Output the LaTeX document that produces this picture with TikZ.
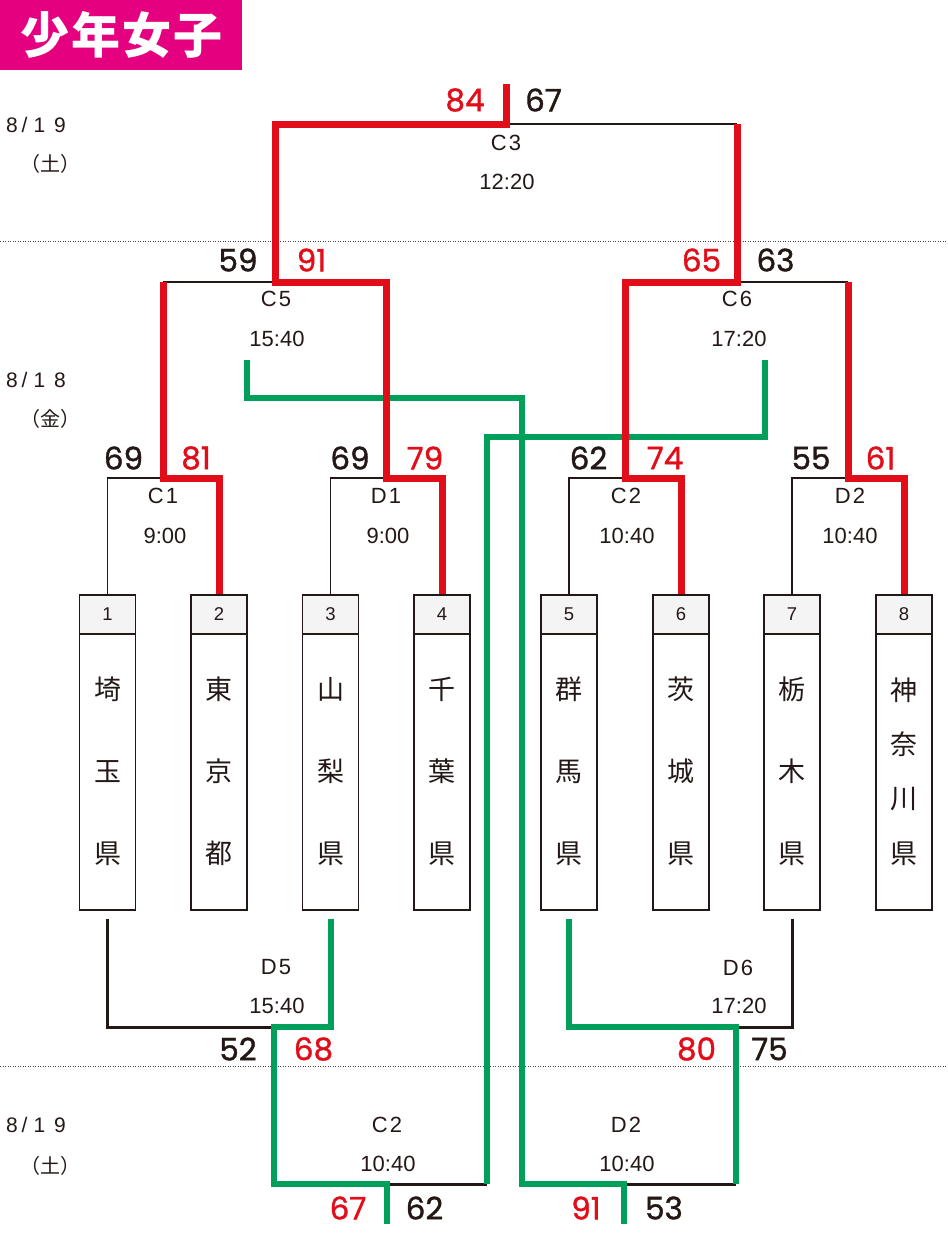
\documentclass[tikz,border=0pt]{standalone}
\usepackage{fontspec}
\setmainfont{Liberation Sans}
\newfontfamily\cjk{Noto Sans CJK JP}
\newfontfamily\numfont{Poppins}[FakeBold=1.2]
\definecolor{ink}{HTML}{231815}
\definecolor{winred}{HTML}{E10E19}
\definecolor{wingreen}{HTML}{00A05A}
\definecolor{titlebg}{HTML}{E4007F}
\definecolor{hdrgray}{HTML}{F4F4F4}
\tikzset{
  thinln/.style={draw=ink, line width=1.5pt},
  thickln/.style={draw=ink, line width=3pt, line join=miter},
  redln/.style={draw=winred, line width=7pt, line join=miter},
  grnln/.style={draw=wingreen, line width=6pt, line join=miter},
  sep/.style={draw=ink!80, line width=1pt, dash pattern=on 1pt off 1.5pt},
  boxbody/.style={draw=ink, line width=1.3pt, fill=white, minimum width=56pt, minimum height=315pt, inner sep=0pt},
  boxhdr/.style={draw=ink, line width=1.3pt, fill=hdrgray, minimum width=56pt, minimum height=39pt, inner sep=0pt, font=\fontsize{18.5}{18.5}\selectfont, text=ink},
  pref3/.style={align=center, text=ink, font=\cjk\fontsize{27}{82}\selectfont, inner sep=0pt},
  pref4/.style={align=center, text=ink, font=\cjk\fontsize{27}{54.3}\selectfont, inner sep=0pt},
  scw/.style={text=winred, font=\numfont\fontsize{31}{31}\selectfont, inner sep=0pt},
  scl/.style={text=ink, font=\numfont\fontsize{31}{31}\selectfont, inner sep=0pt},
  lbl/.style={text=ink, font=\fontsize{22}{22}\selectfont, inner sep=0pt},
  datel/.style={text=ink, font=\fontsize{21}{21}\selectfont, inner sep=0pt},
  dayl/.style={text=ink, font=\cjk\fontsize{20}{20}\selectfont, inner sep=0pt},
}
\newcommand{\mlab}[2]{#1\hspace{2pt}#2}
\begin{document}
\begin{tikzpicture}[x=1pt,y=-1pt]
\useasboundingbox (0,0) rectangle (948,1248);
\fill[white] (0,0) rectangle (948,1248);

% title
\node[fill=titlebg, minimum width=242pt, minimum height=70pt, inner sep=0pt, anchor=north west,
      text=white, font=\cjk\bfseries\fontsize{49}{49}\selectfont] (title) at (0,0) {少\hspace{2pt}年\hspace{2pt}女\hspace{2pt}子};

% separators
\draw[sep] (0,241) -- (948,241);
\draw[sep] (0,1066) -- (948,1066);

% dates
\node[datel] (d1) at (36,124.5) {8\hspace{4pt}/\hspace{6pt}1\hspace{9pt}9};
\node[dayl] (w1) at (50,164) {（土）};
\node[datel] (d2) at (36,379.5) {8\hspace{4pt}/\hspace{6pt}1\hspace{9pt}8};
\node[dayl] (w2) at (50,419) {（金）};
\node[datel] (d3) at (36,1125) {8\hspace{4pt}/\hspace{6pt}1\hspace{9pt}9};
\node[dayl] (w3) at (50,1166) {（土）};

% boxes
\foreach \i/\x in {1/107.5,2/219,3/330.5,4/442,5/569,6/681,7/792,8/904}{
  \node[boxbody] (b\i) at (\x,752.5) {};
  \node[boxhdr] (h\i) at (\x,614.5) {\i};
}
\node[pref3] (p1) at (107.5,771.5) {埼\\玉\\県};
\node[pref3] (p2) at (219,771.5) {東\\京\\都};
\node[pref3] (p3) at (330.5,771.5) {山\\梨\\県};
\node[pref3] (p4) at (442,771.5) {千\\葉\\県};
\node[pref3] (p5) at (569,771.5) {群\\馬\\県};
\node[pref3] (p6) at (681,771.5) {茨\\城\\県};
\node[pref3] (p7) at (792,771.5) {栃\\木\\県};
\node[pref4] (p8) at (904,771.5) {神\\奈\\川\\県};

% junction coordinates
\coordinate (C3top) at (506,84);
\coordinate (C3m) at (506,124);
\coordinate (C3L) at (275,124);
\coordinate (C3R) at (737,124);
\coordinate (C5m) at (275,282);
\coordinate (C5L) at (163,282);
\coordinate (C5R) at (386,282);
\coordinate (C6m) at (737,282);
\coordinate (C6L) at (625,282);
\coordinate (C6R) at (848,282);
\coordinate (C1m) at (163,478);
\coordinate (D1m) at (386,478);
\coordinate (C2m) at (625,478);
\coordinate (D2m) at (848,478);
\coordinate (C5gs) at (247,360);
\coordinate (C5gk) at (247,398);
\coordinate (C6gs) at (765,360);
\coordinate (C6gk) at (765,437);
\coordinate (D5m) at (274,1027);
\coordinate (D6m) at (736,1027);
\coordinate (C2bL) at (274,1184);
\coordinate (C2bm) at (387,1184);
\coordinate (C2bR) at (487,1184);
\coordinate (C2bbot) at (387,1224);
\coordinate (D2bL) at (522,1184);
\coordinate (D2bm) at (624,1184);
\coordinate (D2bR) at (736,1184);
\coordinate (D2bbot) at (624,1224);

% thin black (upper)
\draw[thinln] (C3m) -- (C3R);
\draw[thinln] (C5L) -- (C5m);
\draw[thinln] (C6m) -- (C6R);
\draw[thinln] (b1.north) |- (C1m);
\draw[thinln] (b3.north) |- (D1m);
\draw[thinln] (b5.north) |- (C2m);
\draw[thinln] (b7.north) |- (D2m);

% thick black (lower)
\draw[thickln] ([yshift=-8pt]b1.south) |- (D5m);
\draw[thickln] ([yshift=-8pt]b7.south) |- (D6m);
\draw[thickln] (C2bm) -- (C2bR);
\draw[thickln] (D2bm) -- (D2bR);

% green paths
\draw[grnln] (C5gs) -- (C5gk) -| (D2bL) -- (D2bm) -- (D2bbot);
\draw[grnln] (C6gs) -- (C6gk) -| (C2bR);
\draw[grnln] ([yshift=-8pt]b3.south) |- (D5m) -- (C2bL) -- (C2bm) -- (C2bbot);
\draw[grnln] ([yshift=-8pt]b5.south) |- (D6m) -- (D2bR);

% red paths
\draw[redln] (b4.north) |- (D1m) -- (C5R) -- (C5m) -- (C3L) -- (C3m) -- (C3top);
\draw[redln] (b6.north) |- (C2m) -- (C6L) -- (C6m) -- (C3R);
\draw[redln] (b2.north) |- (C1m) -- (C5L);
\draw[redln] (b8.north) |- (D2m) -- (C6R);

% match labels
\node[lbl] (lC3) at (506,143) {\mlab{C}{3}};
\node[lbl] (tC3) at (507,182) {12:20};
\node[lbl] (lC5) at (276,299) {\mlab{C}{5}};
\node[lbl] (tC5) at (277,339) {15:40};
\node[lbl] (lC6) at (737,299) {\mlab{C}{6}};
\node[lbl] (tC6) at (739,339) {17:20};
\node[lbl] (lC1) at (163,496) {\mlab{C}{1}};
\node[lbl] (tC1) at (165,536) {9:00};
\node[lbl] (lD1) at (386,496) {\mlab{D}{1}};
\node[lbl] (tD1) at (388,536) {9:00};
\node[lbl] (lC2) at (626,496) {\mlab{C}{2}};
\node[lbl] (tC2) at (627,536) {10:40};
\node[lbl] (lD2) at (850,496) {\mlab{D}{2}};
\node[lbl] (tD2) at (850,536) {10:40};
\node[lbl] (lD5) at (276,967.5) {\mlab{D}{5}};
\node[lbl] (tD5) at (277,1006) {15:40};
\node[lbl] (lD6) at (738,967.5) {\mlab{D}{6}};
\node[lbl] (tD6) at (739,1006) {17:20};
\node[lbl] (lC2b) at (387,1125) {\mlab{C}{2}};
\node[lbl] (tC2b) at (388,1164) {10:40};
\node[lbl] (lD2b) at (626,1125) {\mlab{D}{2}};
\node[lbl] (tD2b) at (627,1164) {10:40};

% scores
\node[scw] (s84) at (465,100) {84};
\node[scl] (s67) at (543.5,100) {67};
\node[scl] (s59) at (238,260) {59};
\node[scw] (s91) at (311.5,260) {91};
\node[scw] (s65) at (701.5,260) {65};
\node[scl] (s63) at (775.5,260) {63};
\node[scl] (s69a) at (123.5,458) {69};
\node[scw] (s81) at (196,458) {81};
\node[scl] (s69b) at (350,458) {69};
\node[scw] (s79) at (425,458) {79};
\node[scl] (s62) at (588.5,458) {62};
\node[scw] (s74) at (665,458) {74};
\node[scl] (s55) at (811,458) {55};
\node[scw] (s61) at (880.5,458) {61};
\node[scl] (s52) at (238,1049) {52};
\node[scw] (s68) at (313.5,1049) {68};
\node[scw] (s80) at (696.5,1049) {80};
\node[scl] (s75) at (769.5,1049) {75};
\node[scw] (s67b) at (348,1208) {67};
\node[scl] (s62b) at (424.5,1208) {62};
\node[scw] (s91b) at (586,1208) {91};
\node[scl] (s53) at (664,1208) {53};
\end{tikzpicture}
\end{document}
